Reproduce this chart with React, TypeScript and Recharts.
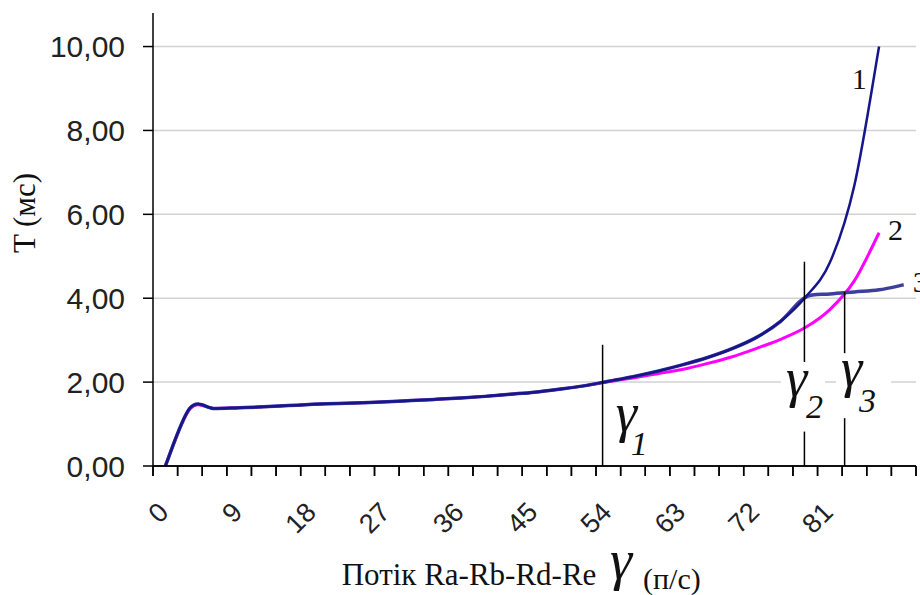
import React from 'react';
import { LineChart, Line, XAxis, YAxis, CartesianGrid, ReferenceLine, ReferenceDot } from 'recharts';

// ---- data ----
const flowRates = [0, 3, 6, 9, 12, 15, 18, 21, 24, 27, 30, 33, 36, 39, 42, 45, 48, 51, 54, 57, 60, 63, 66, 69, 72, 75, 78, 81, 84, 87, 90];
const series1 = [0, 1.38, 1.37, 1.39, 1.41, 1.44, 1.47, 1.49, 1.51, 1.53, 1.56, 1.59, 1.62, 1.66, 1.71, 1.76, 1.83, 1.91, 2.02, 2.13, 2.26, 2.41, 2.58, 2.79, 3.06, 3.45, 4.02, 4.85, 6.7, 10.0, null];
const series2 = [0, 1.36, 1.37, 1.39, 1.41, 1.44, 1.47, 1.49, 1.51, 1.53, 1.56, 1.59, 1.62, 1.66, 1.71, 1.76, 1.83, 1.91, 2.01, 2.1, 2.2, 2.3, 2.44, 2.6, 2.8, 3.02, 3.3, 3.73, 4.42, 5.56, null];
const series3 = [0, 1.38, 1.37, 1.39, 1.41, 1.44, 1.47, 1.49, 1.51, 1.53, 1.56, 1.59, 1.62, 1.66, 1.71, 1.76, 1.83, 1.91, 2.02, 2.13, 2.26, 2.41, 2.58, 2.79, 3.06, 3.45, 4.02, 4.1, 4.15, 4.2, 4.32];

const yTicks = [0, 2, 4, 6, 8, 10];
const gridValues = [2, 4, 6, 8, 10];
const xLabelTicks = [0, 9, 18, 27, 36, 45, 54, 63, 72, 81];
// tick marks sit between categories (category step = 3)
const xTickMarks = [-1.5, 1.5, 4.5, 7.5, 10.5, 13.5, 16.5, 19.5, 22.5, 25.5, 28.5, 31.5, 34.5, 37.5, 40.5, 43.5, 46.5, 49.5, 52.5, 55.5, 58.5, 61.5, 64.5, 67.5, 70.5, 73.5, 76.5, 79.5, 82.5, 85.5, 88.5, 91.5];
const X_DOMAIN = [-1.5, 91.5];
const Y_DOMAIN = [0, 10.8];
const HALF_STEP = 1.5;

// critical flow markers (gamma1, gamma2, gamma3)
const gammaX = [53.3, 77.9, 82.8];
const gammaSubs = ['1', '2', '3'];
const gammaSegments = [
  [[0, 2.89]],
  [[2.48, 4.87], [0, 0.82]],
  [[2.69, 4.15], [0, 1.14]],
];
const gammaLabelPos = [
  [54.9, 0.835],
  [75.65, 1.67],
  [82.36, 1.91],
];

// curve numbers
const curveNames = ['1', '2', '3'];
const curveNamePos = [
  [83.67, 8.99],
  [88.1, 5.39],
  [91.1, 4.15],
];

const data = flowRates.map((x, i) => ({ x, s1: series1[i], s2: series2[i], s3: series3[i] }));

const CHART_W = 920;
const CHART_H = 595;
const MARGIN = { top: 13, right: 4, bottom: 19, left: 0 };
const Y_AXIS_W = 153;
const X_AXIS_H = 110;
const PLOT_W = CHART_W - MARGIN.left - MARGIN.right - Y_AXIS_W;
const PX_PER_UNIT = PLOT_W / (X_DOMAIN[1] - X_DOMAIN[0]);
const TICK_LEN = 10;

const SANS = 'Liberation Sans, Arial, sans-serif';
const SERIF = 'Liberation Serif, Times New Roman, serif';

// Excel-like smoothed line (Catmull-Rom through points)
function excelSmooth(context: any) {
  let pts: number[][] = [];
  return {
    areaStart() {},
    areaEnd() {},
    lineStart() {
      pts = [];
    },
    point(x: number, y: number) {
      pts.push([+x, +y]);
    },
    lineEnd() {
      const n = pts.length;
      if (!n) return;
      context.moveTo(pts[0][0], pts[0][1]);
      for (let i = 0; i < n - 1; i++) {
        const p0 = pts[i === 0 ? 0 : i - 1];
        const p1 = pts[i];
        const p2 = pts[i + 1];
        const p3 = pts[i + 2 < n ? i + 2 : n - 1];
        context.bezierCurveTo(
          p1[0] + (p2[0] - p0[0]) / 6,
          p1[1] + (p2[1] - p0[1]) / 6,
          p2[0] - (p3[0] - p1[0]) / 6,
          p2[1] - (p3[1] - p1[1]) / 6,
          p2[0],
          p2[1]
        );
      }
    },
  };
}

const fmtY = (v: number) => v.toFixed(2).replace('.', ',');

// labels at category centers (every 9)
const XTick = (props: any) => {
  const { x, y, payload } = props;
  const cat = Math.round((payload.value + HALF_STEP) * 10) / 10;
  if (!xLabelTicks.includes(cat)) return <g />;
  const ax = x + HALF_STEP * PX_PER_UNIT - 9;
  return (
    <text
      x={ax}
      y={y}
      dy="0.72em"
      textAnchor="end"
      transform={`rotate(-45, ${ax}, ${y})`}
      fontFamily={SANS}
      fontSize={27}
      fill="#222"
    >
      {cat}
    </text>
  );
};

// x baseline drawn at y = 0 with between-category tick marks
const BaselineShape = (props: any) => {
  const x1 = Number(props.x1);
  const x2 = Number(props.x2);
  const y = Number(props.y1);
  if (!isFinite(x1) || !isFinite(x2) || !isFinite(y)) return <g />;
  const lo = Math.min(x1, x2);
  const unit = Math.abs(x2 - x1) / (X_DOMAIN[1] - X_DOMAIN[0]);
  return (
    <g>
      <line x1={lo} y1={y} x2={lo + Math.abs(x2 - x1)} y2={y} stroke="#000" strokeWidth={1.5} />
      {xTickMarks.map((b) => {
        const tx = lo + (b - X_DOMAIN[0]) * unit;
        return <line key={`t${b}`} x1={tx} y1={y} x2={tx} y2={y + TICK_LEN} stroke="#000" strokeWidth={1.5} />;
      })}
    </g>
  );
};

const XTitle = () => (
  <g>
    <text x={341.7} y={585} fontFamily={SERIF} fontSize={31} fill="#111">
      Потік Ra-Rb-Rd-Re
    </text>
    <text x={610} y={579} fontFamily={SERIF} fontStyle="italic" fontSize={56} fill="#111">
      γ
    </text>
    <text x={643} y={589} fontFamily={SERIF} fontSize={30} fill="#111">
      (п/с)
    </text>
  </g>
);

const YTitle = () => (
  <text
    x={24}
    y={213}
    transform="rotate(-90, 24, 213)"
    textAnchor="middle"
    dominantBaseline="central"
    fontFamily={SERIF}
    fontSize={31}
    fill="#111"
  >
    T (мс)
  </text>
);

const makeGammaLabel = (idx: number) => (props: any) => {
  const vb = props.viewBox || {};
  const cx = (vb.x ?? 0) + (vb.width ?? 0) / 2;
  const cy = (vb.y ?? 0) + (vb.height ?? 0) / 2;
  const subDx = [15, 20, 18][idx];
  const subDy = [24, 22, 26][idx];
  return (
    <g>
      {idx > 0 && <rect x={cx - 5} y={cy - 31} width={idx === 1 ? 44 : 55} height={58} fill="#fff" />}
      <text x={cx} y={cy} fontFamily={SERIF} fontStyle="italic" fontSize={54} fill="#111">
        γ
      </text>
      <text x={cx + subDx} y={cy + subDy} fontFamily={SERIF} fontStyle="italic" fontSize={34} fill="#111">
        {gammaSubs[idx]}
      </text>
    </g>
  );
};

const makeCurveName = (idx: number) => (props: any) => {
  const vb = props.viewBox || {};
  const cx = (vb.x ?? 0) + (vb.width ?? 0) / 2;
  const cy = (vb.y ?? 0) + (vb.height ?? 0) / 2;
  return (
    <text x={cx} y={cy} fontFamily={SERIF} fontSize={30} fill="#111">
      {curveNames[idx]}
    </text>
  );
};

export default function App() {
  return (
    <div style={{ position: 'absolute', left: 0, top: 0, width: CHART_W, height: CHART_H, background: '#fff' }}>
      <LineChart width={CHART_W} height={CHART_H} data={data} margin={MARGIN}>
        <CartesianGrid horizontal vertical={false} horizontalValues={gridValues} stroke="#d2d2d2" strokeWidth={1.5} />
        <XAxis
          dataKey="x"
          type="number"
          domain={X_DOMAIN}
          ticks={xTickMarks}
          interval={0}
          height={X_AXIS_H}
          tickSize={TICK_LEN}
          tickMargin={24}
          tick={XTick}
          stroke="#000"
          axisLine={{ stroke: '#000', strokeWidth: 1.5 }}
          tickLine={{ stroke: '#000', strokeWidth: 1.5 }}
          label={<XTitle />}
        />
        <YAxis
          type="number"
          domain={Y_DOMAIN}
          ticks={yTicks}
          interval={0}
          width={Y_AXIS_W}
          tickSize={10}
          tickMargin={18}
          tickFormatter={fmtY}
          tick={{ fontFamily: SANS, fontSize: 30, fill: '#222' }}
          axisLine={{ stroke: '#000', strokeWidth: 1.5 }}
          tickLine={{ stroke: '#000', strokeWidth: 1.5 }}
          label={<YTitle />}
        />
        <Line dataKey="s2" type={excelSmooth as any} stroke="#ff00ff" strokeWidth={3} dot={false} activeDot={false} isAnimationActive={false} />
        <Line dataKey="s3" type={excelSmooth as any} stroke="#3e3e9c" strokeWidth={3.5} dot={false} activeDot={false} isAnimationActive={false} />
        <Line dataKey="s1" type={excelSmooth as any} stroke="#16168a" strokeWidth={2.5} dot={false} activeDot={false} isAnimationActive={false} />
        <ReferenceLine y={0} ifOverflow="visible" stroke="#000" strokeWidth={1.5} shape={BaselineShape} />
        {gammaSegments.map((segs, gi) =>
          segs.map((s, si) => (
            <ReferenceLine
              key={`g${gi}-${si}`}
              segment={[{ x: gammaX[gi], y: s[0] }, { x: gammaX[gi], y: s[1] }]}
              stroke="#000"
              strokeWidth={1.5}
              ifOverflow="visible"
            />
          ))
        )}
        {gammaLabelPos.map((p, gi) => (
          <ReferenceDot
            key={`gl${gi}`}
            x={p[0]}
            y={p[1]}
            r={0}
            fill="none"
            stroke="none"
            ifOverflow="visible"
            label={makeGammaLabel(gi)}
          />
        ))}
        {curveNamePos.map((p, ci) => (
          <ReferenceDot
            key={`cn${ci}`}
            x={p[0]}
            y={p[1]}
            r={0}
            fill="none"
            stroke="none"
            ifOverflow="visible"
            label={makeCurveName(ci)}
          />
        ))}
      </LineChart>
    </div>
  );
}
